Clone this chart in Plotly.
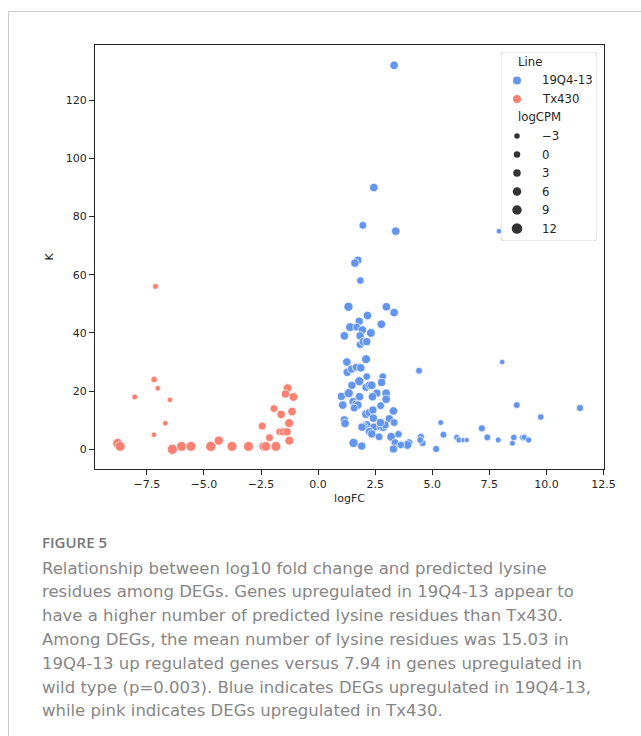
import plotly.graph_objects as go

# ---------------- data ----------------
line_names = ["19Q4-13", "Tx430"]
line_colors = ["#6495ED", "#FA8072"]

q_logfc = [3.33, 2.44, 1.96, 3.40, 7.92, 1.74, 1.61, 1.85, 1.33, 2.99, 3.33, 2.16, 1.80, 2.77,
           1.40, 1.69, 1.94, 1.15, 1.84, 2.31, 1.84, 1.98, 2.13, 2.10, 1.26, 8.06, 4.42, 1.28,
           1.47, 1.66, 1.87, 2.13, 2.83, 1.80, 1.48, 2.10, 2.25, 2.35, 2.78, 2.57, 2.98, 2.98,
           1.02, 1.34, 1.81, 2.38, 1.53, 1.66, 1.74, 1.08, 2.74, 3.30, 2.10, 2.25, 2.40, 2.42,
           3.12, 1.15, 1.18, 3.33, 5.37, 2.13, 1.99, 1.92, 2.45, 2.74, 2.86, 2.93, 2.25, 2.35,
           2.67, 3.20, 3.52, 5.49, 4.50, 3.98, 3.91, 4.58, 3.37, 3.62, 1.55, 1.91, 3.30, 5.17,
           6.07, 6.17, 6.36, 6.51, 7.17, 7.41, 7.89, 8.51, 8.57, 8.96, 9.03, 9.22, 8.70, 9.75,
           11.47, 2.73, 4.47, 1.58]
q_k = [132, 90, 77, 75, 75, 65, 64, 58, 49, 49, 47, 46, 44, 43,
       42, 42, 41, 39, 39, 40, 36, 37, 37, 31, 30, 30, 27, 26.5,
       27.6, 28.2, 28, 25, 25, 23.4, 22, 21.3, 22, 22, 23, 19.3, 19.3, 17.2,
       18.2, 19.3, 18.1, 18.1, 16.4, 15.5, 15.2, 15.2, 15, 13.2, 12.1, 12.6, 13.5, 10.7,
       10.5, 10.1, 8.9, 9.2, 9.2, 8.4, 7.8, 7.6, 7.6, 7.8, 7.6, 8.4, 6.1, 5.3,
       4.3, 4.3, 5.2, 5.0, 4.3, 2.3, 1.5, 2.1, 2.3, 1.5, 2.2, 1.1, 0.1, 0.1,
       4.1, 3.2, 3.2, 3.2, 7.2, 4.1, 3.2, 2.1, 4.1, 4.1, 4.1, 3.2, 15.2, 11.1,
       14.2, 9.2, 3.2, 14.2]
q_logcpm = [6, 6, 4, 6, -3, 5, 5, 3, 8, 6, 6, 6, 5, 6,
            7, 4, 6, 6, 5, 7, 4, 6, 5, 7, 6, -3, 1, 6,
            5, 4, 6, 3, 3, 8, 5, 5, 6, 6, 5, 5, 6, 6,
            5, 8, 6, 6, 5, 5, 6, 6, 4, 6, 7, 6, 5, 5,
            5, 5, 6, 4, -2, 6, 7, 5, 5, 5, 6, 5, 6, 5,
            4, 7, 3, 1, 2, 4, 7, 1, 4, 3, 8, 5, 5, 2,
            -1, -1, -4, -4, 2, 1, -2, -2, 0, 0, -1, -1, 1, 0,
            2, 5, 1, 4]

t_logfc = [-8.77, -8.67, -8.03, -7.12, -7.18, -7.02, -6.49, -6.69, -7.19, -6.38, -5.98, -5.57,
           -4.70, -4.35, -3.77, -3.05, -2.38, -2.28, -1.85, -2.45, -2.13, -1.93, -1.62, -1.34,
           -1.43, -1.08, -1.14, -1.27, -1.69, -1.52, -1.36, -1.26]
t_k = [2, 1, 18, 56, 24, 21, 17, 9, 5, 0, 1, 1,
       1, 3, 1, 1, 1, 1, 1, 8, 4, 14, 12, 21,
       19, 18, 13, 9, 6, 6, 6, 3]
t_logcpm = [11, 10, -2, -2, 0, -3, -3, -3, -3, 11, 10, 10,
            11, 8, 10, 10, 9, 9, 10, 4, 4, 4, 5, 7,
            5, 7, 6, 7, 3, 5, 5, 7]

x_ticks = [-7.5, -5.0, -2.5, 0.0, 2.5, 5.0, 7.5, 10.0, 12.5]
y_ticks = [0, 20, 40, 60, 80, 100, 120]
legend_size_values = [-3, 0, 3, 6, 9, 12]

caption_title = "FIGURE 5"
caption_lines = [
    "Relationship between log10 fold change and predicted lysine",
    "residues among DEGs. Genes upregulated in 19Q4-13 appear to",
    "have a higher number of predicted lysine residues than Tx430.",
    "Among DEGs, the mean number of lysine residues was 15.03 in",
    "19Q4-13 up regulated genes versus 7.94 in genes upregulated in",
    "wild type (p=0.003). Blue indicates DEGs upregulated in 19Q4-13,",
    "while pink indicates DEGs upregulated in Tx430.",
]

# ---------------- helpers ----------------
W, H = 641, 736
PL, PR, PT, PB = 95, 604, 45, 469   # plot area in pixels


def size_of(v):
    return max(3.5, 5.5 + (v + 3) / 3.0)


def fmt_tick(v):
    s = f"{v:.1f}" if isinstance(v, float) else f"{v}"
    return s.replace("-", "\u2212")


def px2paper_x(px):
    return (px - PL) / (PR - PL)


def px2paper_y(py):
    return (PB - py) / (PB - PT)


TXT = "#262626"
FONT = "DejaVu Sans"

fig = go.Figure()

series = [
    (q_logfc, q_k, q_logcpm),
    (t_logfc, t_k, t_logcpm),
]
for (xs, ys, cs), name, col in zip(series, line_names, line_colors):
    fig.add_trace(go.Scatter(
        x=xs, y=ys, mode="markers", name=name, showlegend=False,
        marker=dict(color=col, size=[size_of(c) for c in cs],
                    line=dict(color="white", width=0.7), opacity=1),
        xaxis="x", yaxis="y",
    ))

# ---------------- legend (helper axes) ----------------
LG_L, LG_R, LG_T, LG_B = 501, 597, 52, 241
row0, step = 10.0, 18.5
mk_x, txt_x, head_x = 16, 39, 14.5

rows = []
rows.append(("head", "Line", None, None))
for n, c in zip(line_names, line_colors):
    rows.append(("item", n, c, 8.0))
rows.append(("head", "logCPM", None, None))
for v in legend_size_values:
    rows.append(("item", fmt_tick(v), "#333333", size_of(v)))

annotations = []
for i, (kind, label, col, sz) in enumerate(rows):
    ry = row0 + i * step
    if kind == "head":
        annotations.append(dict(x=head_x, y=ry, xref="x2", yref="y2", text=label,
                                showarrow=False, xanchor="left", yanchor="middle",
                                font=dict(family=FONT, size=11.7, color=TXT)))
    else:
        fig.add_trace(go.Scatter(x=[mk_x], y=[ry], mode="markers", showlegend=False,
                                 hoverinfo="skip",
                                 marker=dict(color=col, size=sz, line=dict(width=0)),
                                 xaxis="x2", yaxis="y2"))
        annotations.append(dict(x=txt_x, y=ry, xref="x2", yref="y2", text=label,
                                showarrow=False, xanchor="left", yanchor="middle",
                                font=dict(family=FONT, size=11.7, color=TXT)))

lw, lh, r = LG_R - LG_L, LG_B - LG_T, 3
legend_path = (f"M {r},0 L {lw - r},0 Q {lw},0 {lw},{r} L {lw},{lh - r} Q {lw},{lh} {lw - r},{lh} "
               f"L {r},{lh} Q 0,{lh} 0,{lh - r} L 0,{r} Q 0,0 {r},0 Z")

shapes = [
    dict(type="path", path=legend_path, xref="x2", yref="y2", layer="below",
         fillcolor="rgba(255,255,255,0.85)", line=dict(color="#d6d6d6", width=1)),
    # outer frame (left and top edges)
    dict(type="line", xref="paper", yref="paper",
         x0=px2paper_x(8.5), x1=px2paper_x(8.5), y0=px2paper_y(11.5), y1=px2paper_y(H + 5),
         line=dict(color="#cccccc", width=1)),
    dict(type="line", xref="paper", yref="paper",
         x0=px2paper_x(8.5), x1=px2paper_x(W + 5), y0=px2paper_y(11.5), y1=px2paper_y(11.5),
         line=dict(color="#cccccc", width=1)),
]

# ---------------- caption ----------------
cap_x = px2paper_x(40)
annotations.append(dict(x=cap_x, y=px2paper_y(542), xref="paper", yref="paper",
                        text=caption_title, showarrow=False, xanchor="left", yanchor="middle",
                        font=dict(family="Open Sans", size=15, color="#767676", weight=600)))
for i, line in enumerate(caption_lines):
    annotations.append(dict(x=cap_x, y=px2paper_y(568 + i * 23.8), xref="paper", yref="paper",
                            text=line, showarrow=False, xanchor="left", yanchor="middle",
                            font=dict(family="DejaVu Sans", size=16.5, color="#868686")))

axis_common = dict(showgrid=False, zeroline=False, showline=True, mirror=True,
                   linecolor=TXT, linewidth=1, ticks="outside", ticklen=5,
                   tickcolor=TXT, tickwidth=1,
                   tickfont=dict(family=FONT, size=11, color=TXT))

fig.update_layout(
    width=W, height=H, autosize=False,
    margin=dict(l=PL, r=W - PR, t=PT, b=H - PB, pad=0),
    paper_bgcolor="white", plot_bgcolor="white",
    xaxis=dict(range=[-9.77, 12.52], tickvals=x_ticks,
               ticktext=[fmt_tick(v) for v in x_ticks],
               title=dict(text="logFC", font=dict(family=FONT, size=11, color=TXT), standoff=4),
               **axis_common),
    yaxis=dict(range=[-6.77, 139.0], tickvals=y_ticks,
               ticktext=[fmt_tick(v) for v in y_ticks],
               title=dict(text="K", font=dict(family=FONT, size=11, color=TXT), standoff=9),
               **axis_common),
    xaxis2=dict(domain=[px2paper_x(LG_L), px2paper_x(LG_R)], range=[0, LG_R - LG_L],
                anchor="y2", visible=False, fixedrange=True),
    yaxis2=dict(domain=[px2paper_y(LG_B), px2paper_y(LG_T)], range=[LG_B - LG_T, 0],
                anchor="x2", visible=False, fixedrange=True),
    shapes=shapes,
    annotations=annotations,
    showlegend=False,
)

fig.write_html("out.html", config={"displayModeBar": False},
               post_script="document.body.style.margin='0px';document.body.style.overflow='hidden';")
